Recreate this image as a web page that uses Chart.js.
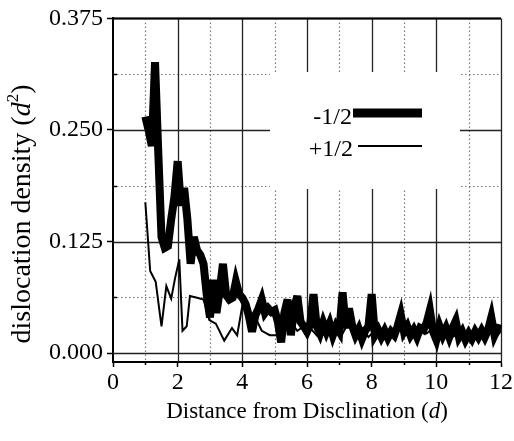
<!DOCTYPE html>
<html><head><meta charset="utf-8">
<script src="https://cdn.jsdelivr.net/npm/chart.js@4.4.1/dist/chart.umd.min.js"></script>
<style>html,body{margin:0;padding:0;background:#fff;}#wrap{width:514px;height:441px;}</style>
</head><body><div id="wrap"><canvas id="c" width="514" height="441"></canvas></div>
<script>
// ---- data ----
const distNeg = [1.0,1.1,1.2,1.3,1.4,1.5,1.6,1.7,1.8,1.9,2.0,2.1,2.2,2.3,2.4,2.5,2.6,2.7,2.8,2.9,3.0,3.1,3.2,3.3,3.4,3.5,3.6,3.7,3.8,3.9,4.0,4.1,4.2,4.3,4.4,4.5,4.6,4.7,4.8,4.9,5.0,5.1,5.2,5.3,5.4,5.5,5.6,5.7,5.8,5.9,6.0,6.1,6.2,6.3,6.4,6.5,6.6,6.7,6.8,6.9,7.0,7.1,7.2,7.3,7.4,7.5,7.6,7.7,7.8,7.9,8.0,8.1,8.2,8.3,8.4,8.5,8.6,8.7,8.8,8.9,9.0,9.1,9.2,9.3,9.4,9.5,9.6,9.7,9.8,9.9,10.0,10.1,10.2,10.3,10.4,10.5,10.6,10.7,10.8,10.9,11.0,11.1,11.2,11.3,11.4,11.5,11.6,11.7,11.8,11.9,12.0];
const densNeg = [0.265,0.25,0.232,0.326,0.225,0.13,0.118,0.12,0.15,0.175,0.215,0.165,0.185,0.15,0.1,0.13,0.115,0.11,0.1,0.065,0.04,0.082,0.045,0.07,0.1,0.065,0.06,0.062,0.08,0.066,0.062,0.055,0.042,0.024,0.042,0.05,0.06,0.045,0.05,0.046,0.048,0.035,0.012,0.045,0.06,0.02,0.05,0.064,0.035,0.03,0.024,0.032,0.066,0.03,0.022,0.034,0.024,0.033,0.02,0.03,0.024,0.068,0.028,0.05,0.03,0.02,0.027,0.016,0.025,0.03,0.066,0.02,0.026,0.018,0.025,0.017,0.024,0.02,0.03,0.043,0.024,0.03,0.02,0.026,0.018,0.028,0.026,0.034,0.048,0.024,0.015,0.03,0.02,0.028,0.018,0.028,0.036,0.018,0.024,0.015,0.022,0.016,0.024,0.018,0.025,0.018,0.026,0.04,0.02,0.028,0.027];
const distPos = [1.0,1.15,1.32,1.5,1.65,1.8,1.92,2.05,2.15,2.28,2.38,2.6,2.8,2.98,3.18,3.44,3.68,3.84,4.0,4.2,4.4,4.6,4.85,5.05,5.3,5.5,5.7,5.9,6.1,6.3,6.5,6.7,6.9,7.1,7.3,7.5,7.7,7.9,8.1,8.3,8.5,8.7,8.9,9.1,9.3,9.5,9.7,9.9,10.1,10.3,10.5,10.7,10.9,11.1,11.3,11.5,11.7,11.9,12.0];
const densPos = [0.169,0.092,0.08,0.03,0.075,0.061,0.084,0.105,0.025,0.03,0.064,0.062,0.06,0.037,0.033,0.014,0.028,0.02,0.053,0.045,0.04,0.025,0.02,0.02,0.03,0.035,0.025,0.03,0.028,0.02,0.035,0.025,0.03,0.022,0.035,0.02,0.028,0.018,0.025,0.022,0.018,0.024,0.03,0.02,0.025,0.03,0.022,0.028,0.02,0.025,0.018,0.022,0.015,0.02,0.018,0.022,0.025,0.02,0.025];
const seriesLabels = ['-1/2','+1/2'];
const xTicks = [0,2,4,6,8,10,12];
const xMinor = [1,3,5,7,9,11];
const yTicks = [0,0.125,0.25,0.375];
const yMinor = [0.0625,0.1875,0.3125];

const SERIF = '"Liberation Serif","DejaVu Serif",serif';

function pts(xs, ys){ return xs.map((x,i)=>({x:x, y:ys[i]})); }

const decor = {
  id:'decor',
  beforeDatasetsDraw(chart){
    const {ctx, chartArea:a, scales:{x, y}} = chart;
    ctx.save();
    ctx.strokeStyle = '#777'; ctx.lineWidth = 1.2; ctx.setLineDash([1.5,2.5]);
    xMinor.forEach(v=>{ const p=Math.round(x.getPixelForValue(v))+0.5; ctx.beginPath(); ctx.moveTo(p,a.top); ctx.lineTo(p,a.bottom); ctx.stroke(); });
    yMinor.forEach(v=>{ const p=Math.round(y.getPixelForValue(v))+0.5; ctx.beginPath(); ctx.moveTo(a.left,p); ctx.lineTo(a.right,p); ctx.stroke(); });
    ctx.setLineDash([]); ctx.strokeStyle = '#222'; ctx.lineWidth = 1.3;
    xTicks.forEach(v=>{ if(v===0) return; const p=Math.round(x.getPixelForValue(v))+0.5; ctx.beginPath(); ctx.moveTo(p,a.top); ctx.lineTo(p,a.bottom); ctx.stroke(); });
    yTicks.forEach(v=>{ const p=Math.round(y.getPixelForValue(v))+0.5; ctx.beginPath(); ctx.moveTo(a.left,p); ctx.lineTo(a.right,p); ctx.stroke(); });
    ctx.lineWidth = 2; ctx.strokeStyle='#000';
    ctx.beginPath(); ctx.moveTo(a.left,a.top); ctx.lineTo(a.right,a.top); ctx.stroke();
    ctx.fillStyle = '#fff';
    ctx.fillRect(270, 72, 190, 117);
    ctx.lineWidth = 1.5; ctx.strokeStyle = '#000';
    xMinor.forEach(v=>{ const p=Math.round(x.getPixelForValue(v))+0.5; ctx.beginPath(); ctx.moveTo(p,a.bottom); ctx.lineTo(p,a.bottom+3); ctx.stroke(); });
    yMinor.forEach(v=>{ const p=Math.round(y.getPixelForValue(v))+0.5; ctx.beginPath(); ctx.moveTo(a.left,p); ctx.lineTo(a.left+4,p); ctx.stroke(); });
    ctx.restore();
    ctx.miterLimit = 5;
  },
  afterDatasetsDraw(chart){ chart.ctx.miterLimit = 10; },
  afterDraw(chart){
    const {ctx} = chart;
    ctx.save();
    ctx.fillStyle = '#000'; ctx.strokeStyle = '#000';
    ctx.font = '24px ' + SERIF; ctx.textAlign = 'right'; ctx.textBaseline = 'alphabetic';
    ctx.fillText(seriesLabels[0], 352, 124);
    ctx.fillText(seriesLabels[1], 353, 156);
    ctx.lineWidth = 9; ctx.beginPath(); ctx.moveTo(353,113); ctx.lineTo(422,113); ctx.stroke();
    ctx.lineWidth = 2; ctx.beginPath(); ctx.moveTo(358,146); ctx.lineTo(422,146); ctx.stroke();
    const parts = [['Distance from Disclination (', 'normal', 23, 0], ['d', 'italic', 23, 0], [')', 'normal', 23, 0]];
    drawParts(ctx, parts, 307, 418);
    ctx.translate(30, 214); ctx.rotate(-Math.PI/2);
    const yparts = [['dislocation density (', 'normal', 28, 0], ['d', 'italic', 28, 0], ['2', 'normal', 17, -12], [')', 'normal', 28, 0]];
    drawParts(ctx, yparts, 0, 0);
    ctx.restore();
  }
};
function drawParts(ctx, parts, cx, base){
  let w = 0;
  parts.forEach(p=>{ ctx.font = p[1]+' '+p[2]+'px '+SERIF; w += ctx.measureText(p[0]).width; });
  let xx = cx - w/2;
  ctx.textAlign = 'left'; ctx.textBaseline = 'alphabetic';
  parts.forEach(p=>{ ctx.font = p[1]+' '+p[2]+'px '+SERIF; ctx.fillText(p[0], xx, base + p[3]); xx += ctx.measureText(p[0]).width; });
}

new Chart(document.getElementById('c'), {
  type: 'line',
  data: {
    datasets: [
      { label: seriesLabels[0], data: pts(distNeg, densNeg), borderColor:'#000', borderWidth:8, borderJoinStyle:'miter', pointRadius:0, tension:0, fill:false, clip:false },
      { label: seriesLabels[1], data: pts(distPos, densPos), borderColor:'#000', borderWidth:2, borderJoinStyle:'miter', pointRadius:0, tension:0, fill:false }
    ]
  },
  options: {
    responsive:false, devicePixelRatio:1, animation:false,
    layout: { padding: { top:14, right:10, left:0, bottom:0 } },
    plugins: { legend:{display:false}, tooltip:{enabled:false} },
    scales: {
      x: { type:'linear', min:0, max:12,
        afterBuildTicks: s=>{ s.ticks = xTicks.map(v=>({value:v})); },
        afterFit: s=>{ s.height = 79; },
        ticks: { color:'#000', font:{family:SERIF, size:24}, padding:1, maxRotation:0, autoSkip:false, callback:v=>String(v) },
        grid: { drawOnChartArea:false, drawTicks:true, tickLength:5, color:'#000', tickWidth:1.5 },
        border: { display:true, color:'#000', width:2 }
      },
      y: { type:'linear', min:-0.01, max:0.375,
        afterBuildTicks: s=>{ s.ticks = yTicks.map(v=>({value:v})); },
        afterFit: s=>{ s.width = 113; },
        ticks: { color:'#000', font:{family:SERIF, size:24}, padding:4, autoSkip:false, callback:v=>Number(v).toFixed(3) },
        grid: { drawOnChartArea:false, drawTicks:true, tickLength:6, color:'#000', tickWidth:1.5 },
        border: { display:true, color:'#000', width:2 }
      }
    }
  },
  plugins: [decor]
});
</script></body></html>
